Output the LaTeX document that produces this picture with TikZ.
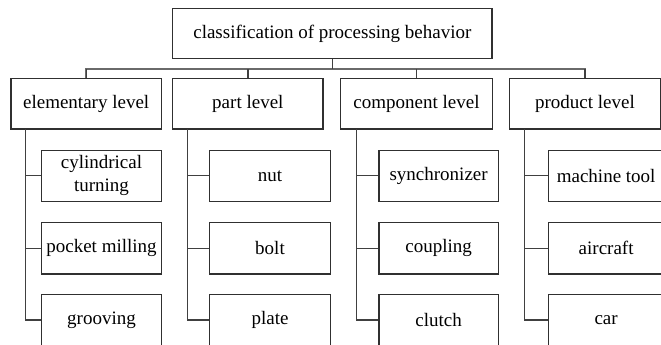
\documentclass[tikz,border=0pt]{standalone}
\usepackage{fontspec}
\setmainfont{Liberation Serif}
\definecolor{boxc}{HTML}{303030}
\definecolor{linec}{HTML}{404040}
\definecolor{busc}{HTML}{6A6A6A}
\begin{document}
\begin{tikzpicture}[x=1pt,y=-1pt,
  box/.style={draw=boxc, line width=1.3pt, inner sep=0pt, align=center,
    font=\fontsize{19}{23}\selectfont, text=black},
  lvl/.style={box, minimum width=150.5pt, minimum height=50.5pt},
  kid/.style={box, minimum height=51.2pt},
  link/.style={draw=linec, line width=1.3pt},
  bus/.style={draw=busc, line width=2pt}]
\useasboundingbox (0,0) rectangle (661,345);
\clip (0,0) rectangle (661,345);

% root
\node[box, minimum width=319.3pt, minimum height=50.4pt] (root) at (332.35,33.5) {classification of processing behavior};

% levels
\node[lvl] (elem) at (86.15,103.75) {elementary level};
\node[lvl] (part) at (247.85,103.75) {part level};
\node[lvl, minimum width=151.6pt] (comp) at (416.5,103.75) {component level};
\node[lvl] (prod) at (585,103.75) {product level};

% children
\node[kid, minimum width=119.6pt] (e1) at (101.5,175.75) {cylindrical\\turning};
\node[kid, minimum width=119.6pt] (e2) at (101.5,248.4) {pocket milling};
\node[kid, minimum width=119.6pt] (e3) at (101.5,320) {grooving};

\node[kid, minimum width=121.4pt] (p1) at (270,175.75) {nut};
\node[kid, minimum width=121.4pt] (p2) at (270,248.4) {bolt};
\node[kid, minimum width=121.4pt] (p3) at (270,320) {plate};

\node[kid, minimum width=119.3pt] (c1) at (438.65,175.75) {synchronizer};
\node[kid, minimum width=119.3pt] (c2) at (438.65,248.4) {coupling};
\node[kid, minimum width=119.3pt] (c3) at (438.65,320) {clutch};

\node[kid, minimum width=115.7pt] (d1) at (606.15,175.75) {machine tool};
\node[kid, minimum width=115.7pt] (d2) at (606.15,248.4) {aircraft};
\node[kid, minimum width=115.7pt] (d3) at (606.15,320) {car};

% bus
\coordinate (busy) at (0,69);
\draw[bus] (elem.north) -- (elem.north |- busy) -- (prod.north |- busy) -- (prod.north);
\draw[link] (root.south) -- (root.south |- busy);
\draw[link] (part.north) -- (part.north |- busy);
\draw[link] (comp.north) -- (comp.north |- busy);
\draw[link] (elem.north) -- (elem.north |- busy);
\draw[link] (prod.north) -- (prod.north |- busy);

% trunks under the levels
\coordinate (ev) at (25.7,129);
\coordinate (pv) at (187.7,129);
\coordinate (cv) at (356.7,129);
\coordinate (dv) at (524.3,129);

\draw[link] (ev) |- (e3.west);
\draw[link] (ev |- e1.west) -- (e1.west);
\draw[link] (ev |- e2.west) -- (e2.west);

\draw[link] (pv) |- (p3.west);
\draw[link] (pv |- p1.west) -- (p1.west);
\draw[link] (pv |- p2.west) -- (p2.west);

\draw[link] (cv) |- (c3.west);
\draw[link] (cv |- c1.west) -- (c1.west);
\draw[link] (cv |- c2.west) -- (c2.west);

\draw[link] (dv) |- (d3.west);
\draw[link] (dv |- d1.west) -- (d1.west);
\draw[link] (dv |- d2.west) -- (d2.west);
\end{tikzpicture}
\end{document}
